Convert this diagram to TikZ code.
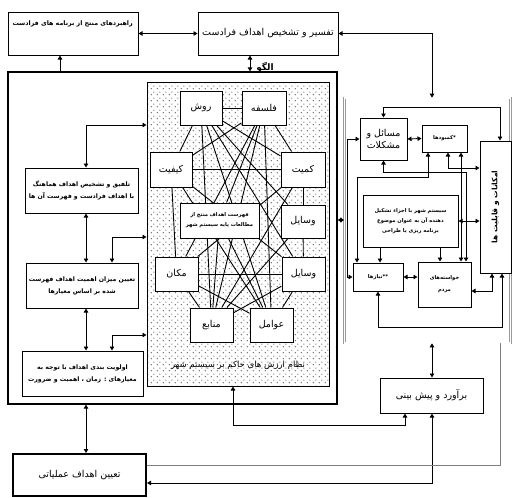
\documentclass[tikz,border=0pt]{standalone}
\usepackage{fontspec}
\newfontfamily\fafont[Script=Arabic, BoldFont={DejaVu Sans Bold}]{DejaVu Sans}
\newfontfamily\fabf[Script=Arabic]{DejaVu Sans Bold}
\TeXXeTstate=1
\usetikzlibrary{arrows.meta,patterns.meta,calc}
\newcommand\fa[1]{\beginR #1\endR}
\pgfdeclarelayer{back}
\pgfdeclarelayer{mid}
\pgfsetlayers{back,mid,main}
\tikzdeclarepattern{
  name=sdots,
  type=uncolored,
  bounding box={(0pt,0pt) and (6pt,6pt)},
  tile size={(6pt,6pt)},
  code={\fill (1.5pt,1.5pt) circle (0.7pt); \fill (4.5pt,4.5pt) circle (0.7pt);}
}
\tikzset{
  bx/.style={draw, fill=white, line width=1pt, inner sep=1pt, align=center},
  arr/.style={line width=0.9pt, -{Triangle[length=4pt,width=4.5pt]}},
  darr/.style={line width=0.9pt, {Triangle[length=4pt,width=4.5pt]}-{Triangle[length=4pt,width=4.5pt]}},
  web/.style={line width=0.9pt},
  bigf/.style={font=\fafont\fontsize{9.5}{12}\selectfont},
  midf/.style={font=\fafont\fontsize{8.5}{11}\selectfont},
  lf/.style={font=\fabf\fontsize{6.2}{8}\selectfont},
  sm/.style={font=\fabf\fontsize{6.3}{8}\selectfont},
  xs/.style={font=\fabf\fontsize{5.2}{7}\selectfont},
}
\begin{document}
\begin{tikzpicture}[x=1pt,y=-1pt]
\useasboundingbox (0,0) rectangle (512,498);

% top boxes
\node[bx, minimum width=130pt, minimum height=43pt] (tl) at (73,33.5) {};
\node[sm, anchor=north east, inner sep=0pt] (tltx) at (133,21) {\fa{راهبردهای منتج از برنامه های فرادست}};
\node[bx, bigf, minimum width=140pt, minimum height=43pt] (tm) at (268,33.5) {\fa{تفسیر و تشخیص اهداف فرادست}};

% big left frame and dotted area
\node[draw, line width=1.3pt, minimum width=329pt, minimum height=332pt] (bg) at (172.5,238) {};
\begin{pgfonlayer}{back}
\node[draw, line width=1pt, pattern=sdots, pattern color=black!70, minimum width=182pt, minimum height=304pt] (dot) at (238,234) {};
\end{pgfonlayer}
\node[font=\fabf\fontsize{9}{10}\selectfont, inner sep=0pt] (olg) at (265,68) {\fa{الگو}};

% central boxes
\node[bx, bigf, minimum width=42pt, minimum height=34pt] (rav) at (201,108) {\fa{روش}};
\node[bx, bigf, minimum width=44pt, minimum height=34pt] (fal) at (264,108) {\fa{فلسفه}};
\node[bx, bigf, minimum width=42pt, minimum height=35pt] (kif) at (171,169.5) {\fa{کیفیت}};
\node[bx, bigf, minimum width=44pt, minimum height=35pt] (kam) at (303,169.5) {\fa{کمیت}};
\node[bx, xs, minimum width=79pt, minimum height=35pt] (cen) at (219.5,220.5) {\fa{فهرست اهداف منتج از}\\[3pt]\fa{مطالعات پایه سیستم شهر}};
\node[bx, bigf, minimum width=44pt, minimum height=33pt] (vas1) at (303,221.5) {\fa{وسایل}};
\node[bx, bigf, minimum width=43pt, minimum height=34pt] (mak) at (176.5,274) {\fa{مکان}};
\node[bx, bigf, minimum width=43pt, minimum height=34pt] (vas2) at (303.5,274) {\fa{وسایل}};
\node[bx, bigf, minimum width=43pt, minimum height=34pt] (man) at (211.5,325) {\fa{منابع}};
\node[bx, bigf, minimum width=43pt, minimum height=34pt] (ava) at (271.5,325) {\fa{عوامل}};
\node[midf] (nz) at (238,365) {\fa{نظام ارزش های حاکم بر سیستم شهر}};

\begin{pgfonlayer}{mid}
\foreach \a/\b in {rav/fal, rav/kif, fal/kam, kif/kam, kif/mak, kam/vas1, vas1/vas2, mak/vas2, mak/man, vas2/ava,
  rav/man, rav/ava, rav/vas2, rav/vas1, fal/man, fal/ava, fal/mak, fal/kif, kif/vas2, kif/ava,
  kam/mak, kam/man, man/vas1, cen/man, cen/ava, rav/kam, fal/cen, mak/ava, man/vas2}
  \draw[web] (\a) -- (\b);
\end{pgfonlayer}

% left boxes
\node[bx, lf, minimum width=113pt, minimum height=45pt] (l1) at (81.5,190.5) {\fa{تلفیق و تشخیص اهداف هماهنگ}\\[4pt]\fa{با اهداف فرادست و فهرست آن ها}};
\node[bx, lf, minimum width=112pt, minimum height=45pt] (l2) at (82,285.5) {\fa{تعیین میزان اهمیت اهداف فهرست}\\[4pt]\fa{شده بر اساس معیارها}};
\node[bx, lf, minimum width=121pt, minimum height=45pt] (l3) at (82.5,373.5) {\fa{اولویت بندی اهداف با توجه به}\\[4pt]\fa{معیارهای : زمان ، اهمیت و ضرورت}};
\node[bx, bigf, line width=2pt, minimum width=133pt, minimum height=42pt] (bot) at (79.5,475) {\fa{تعیین اهداف عملیاتی}};

% right area
\node[draw=gray!80, double=white, double distance=1.2pt, line width=0.6pt, minimum width=166pt, minimum height=245pt] (ra) at (427.5,220.5) {};
\node[bx, bigf, minimum width=47pt, minimum height=42pt] (mas) at (383.5,139) {\fa{مسائل و}\\\fa{مشکلات}};
\node[bx, xs, minimum width=45pt, minimum height=27pt] (kmb) at (444.5,138.5) {\fa{*کمبودها}};
\node[bx, minimum width=31pt, minimum height=132pt] (emk) at (495.5,207) {};
\node[font=\fabf\fontsize{7.5}{9}\selectfont, rotate=90] (emktx) at (emk.center) {\fa{امکانات و قابلیت ها}};
\node[bx, xs, minimum width=95pt, minimum height=52pt] (sys) at (410.5,221) {\fa{سیستم شهر با اجزاء تشکیل}\\[3pt]\fa{دهنده آن به عنوان موضوع}\\[3pt]\fa{برنامه ریزی یا طراحی}};
\node[bx, xs, minimum width=50pt, minimum height=28pt] (niz) at (378,277) {\fa{**نیازها}};
\node[bx, xs, minimum width=53pt, minimum height=45pt] (kha) at (444.5,284.5) {\fa{خواسته‌های}\\[5pt]\fa{مردم}};
\node[bx, bigf, minimum width=103pt, minimum height=35pt] (bra) at (431.5,395.5) {\fa{برآورد و پیش بینی}};

% connectors: top
\draw[darr] (tl.east) -- (tm.west);
\draw[darr] (tm.east) -| (ra.north -| 432,0);
\draw[arr] (bg.north -| 60,0) -- (tl.south -| 60,0);
\draw[darr] (tm.south -| 250,0) -- (bg.north -| 250,0);

% connectors: left
\draw[darr] (l1.north -| 86,0) |- (dot.west |- 0,125);
\draw[darr] (l1.south -| 86,0) -- (l2.north -| 86,0);
\draw[darr] (l2.north -| 112,0) |- (dot.west |- 0,237);
\draw[darr] (l2.south -| 86,0) -- (l3.north -| 86,0);
\draw[darr] (l3.north -| 112,0) |- (dot.west |- 0,335);
\draw[darr] (bg.south -| 86,0) -- (bot.north -| 86,0);
\draw[darr] (bg.east |- 0,220) -- (ra.west |- 0,220);

% connectors: right area
\draw[darr] (mas.east) -- (kmb.west);
\draw[darr] (mas.north) -- ++(0,-10) -| (emk.north -| 500,0);
\draw[darr] (mas.west) -| (niz.west -| 347,0) -- (niz.west);
\draw[darr] (kmb.south -| 428,0) -- ++(0,25) -| (niz.north -| 357,0);
\draw[darr] (kmb.south -| 448,0) |- (emk.west |- 0,168);
\draw[darr] (mas.south) -- ++(0,12) -| (kha.north -| 466,0);
\draw[darr] (kmb.south -| 461,0) -- (kha.north -| 461,0);
\draw[arr] (sys.south -| 380,0) -- (niz.north -| 380,0);
\draw[arr] (sys.south -| 440,0) -- (kha.north -| 440,0);
\draw[darr] (sys.east) -- (emk.west |- sys.east);
\draw[darr] (niz.east) -- (kha.west |- niz.east);
\draw[darr] (kha.east |- 0,291) -| (emk.south -| 492,0);
\draw[darr] (niz.south) -- ++(0,36) -| (emk.south -| 502,0);

% connectors: bottom
\draw[darr] (ra.south -| 432,0) -- (bra.north -| 432,0);
\draw[darr] (bra.south -| 405,0) -- ++(0,12) -| (dot.south -| 233,0);
\draw[darr] (bra.south -| 432,0) |- (bot.east |- 0,483);
\draw[gray, line width=0.8pt] (bot.east |- 0,465) -| (ra.south -| 500,0);
\end{tikzpicture}
\end{document}
